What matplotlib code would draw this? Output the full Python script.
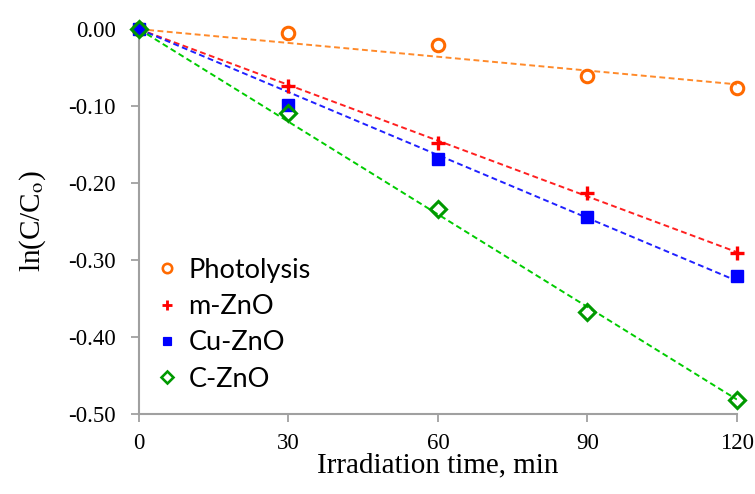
import numpy as np
import matplotlib.pyplot as plt
from matplotlib.lines import Line2D

plt.rcParams['font.family'] = ['Liberation Serif', 'DejaVu Serif']
plt.rcParams['mathtext.fontset'] = 'stix'

# irradiation time (min) and ln(C/Co)
time = [0, 30, 60, 90, 120]
photolysis = [0.0, -0.005, -0.021, -0.061, -0.077]
m_zno = [0.0, -0.074, -0.148, -0.213, -0.291]
cu_zno = [0.0, -0.099, -0.169, -0.244, -0.321]
c_zno = [0.0, -0.109, -0.234, -0.368, -0.482]

labels = ['Photolysis', 'm-ZnO', 'Cu-ZnO', 'C-ZnO']
series = [photolysis, m_zno, cu_zno, c_zno]

# marker style and fit line colour per series
styles = [
    dict(marker='o', mfc='none', mec='#FF6A00', ms=9, mew=2.2),
    dict(marker='+', mfc='#FF0000', mec='#FF0000', ms=10, mew=2.4),
    dict(marker='s', mfc='#0000FF', mec='#0000FF', ms=8.5, mew=1),
    dict(marker='D', mfc='none', mec='#009900', ms=8.5, mew=2.2),
]
line_colors = ['#FF8A2A', '#FF2020', '#2020FF', '#00CC00']

fig = plt.figure(figsize=(7.55, 4.94), dpi=100)
ax = fig.add_axes([0.184, 0.162, 0.792, 0.779])

t = np.array(time, dtype=float)
for y, st, lc in zip(series, styles, line_colors):
    y = np.array(y)
    # linear fit through origin
    k = np.sum(t * y) / np.sum(t * t)
    ax.plot([t[0], t[-1]], [k * t[0], k * t[-1]], color=lc, lw=1.4,
            dashes=(3, 1.8), zorder=2)

handles = []
for y, st, lab in zip(series, styles, labels):
    ax.plot(time, y, linestyle='none', zorder=3, clip_on=False, **st)
    handles.append(Line2D([], [], linestyle='none', label=lab,
                          marker=st['marker'], mfc=st['mfc'], mec=st['mec'],
                          ms=st['ms'] * 0.75, mew=st['mew'] * 0.85))

ax.set_xlim(0, 120)
ax.set_ylim(-0.5, 0)
ax.set_xticks([0, 30, 60, 90, 120])
ax.set_yticks([0, -0.1, -0.2, -0.3, -0.4, -0.5])
ax.set_yticklabels(['0.00', '-0.10', '-0.20', '-0.30', '-0.40', '-0.50'])

for s in ['top', 'right']:
    ax.spines[s].set_visible(False)
for s in ['left', 'bottom']:
    ax.spines[s].set_color('#A0A0A0')
    ax.spines[s].set_linewidth(1.5)
ax.tick_params(axis='both', colors='#A0A0A0', width=1.3, length=5.5,
               labelsize=16.5, labelcolor='black')
ax.tick_params(axis='x', pad=8)
ax.tick_params(axis='y', pad=11)

ax.set_xlabel('Irradiation time, min', fontsize=21)
ax.set_ylabel(r'ln(C/C$_\mathrm{o}$)', fontsize=21)
ax.xaxis.set_label_coords(0.5, -0.1)
ax.yaxis.set_label_coords(-0.152, 0.5)

leg = ax.legend(handles=handles, loc='center left', bbox_to_anchor=(0.035, 0.232),
                frameon=False, handlelength=0.5, handletextpad=0.55,
                labelspacing=0.42, borderaxespad=0, borderpad=0,
                prop={'family': 'Lato', 'size': 19.5})

fig.savefig('out.png', dpi=100)
